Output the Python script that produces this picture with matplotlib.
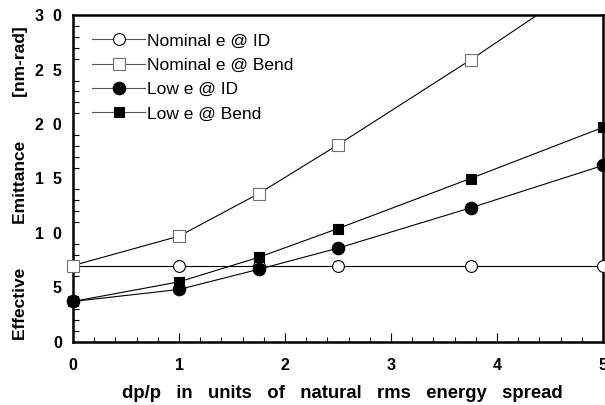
import numpy as np
import matplotlib
matplotlib.use("Agg")
import matplotlib.pyplot as plt
from matplotlib.ticker import MultipleLocator
from matplotlib.lines import Line2D

plt.rcParams['font.family'] = ['Liberation Sans', 'DejaVu Sans']

# dp/p in units of natural rms energy spread
x = [0, 1, 1.75, 2.5, 3.75, 5]

nominal_id = [7.0, 7.0, 7.0, 7.0, 7.0, 7.0]
nominal_bend = [7.0, 9.7, 13.6, 18.1, 25.9, 34.1]
low_id = [3.7, 4.8, 6.65, 8.6, 12.3, 16.2]
low_bend = [3.7, 5.5, 7.75, 10.4, 15.0, 19.7]

labels = ['Nominal e @ ID', 'Nominal e @ Bend', 'Low e @ ID', 'Low e @ Bend']
xtick_vals = [0, 1, 2, 3, 4, 5]
ytick_vals = [0, 5, 10, 15, 20, 25, 30]
ytick_labels = ['0', '5', '1  0', '1  5', '2  0', '2  5', '3  0']

styles = [
    dict(marker='o', ms=8.5, mfc='white', mec='black'),
    dict(marker='s', ms=8, mfc='white', mec='#707070'),
    dict(marker='o', ms=9, mfc='black', mec='black'),
    dict(marker='s', ms=6.8, mfc='black', mec='black'),
]

fig = plt.figure(figsize=(6.05, 4.05), dpi=100)
ax = fig.add_axes([73 / 605, 1 - 341.7 / 405, 530 / 605, (341.7 - 15.3) / 405])

series = [nominal_id, nominal_bend, low_id, low_bend]
handles = []
for ys, st, lab in zip(series, styles, labels):
    # line clipped at the frame, markers drawn over it unclipped
    ax.plot(x, ys, color='black', lw=0.8, zorder=2)
    ax.plot(x, ys, linestyle='none', mew=0.8, zorder=3, clip_on=False, **st)
    handles.append(Line2D([], [], color='#555555', lw=0.8, mew=0.8, label=lab, **st))

ax.set_xlim(0, 5)
ax.set_ylim(0, 30)

ax.set_xticks(xtick_vals)
ax.set_xticklabels([str(v) for v in xtick_vals])
ax.xaxis.set_minor_locator(MultipleLocator(0.2))
ax.set_yticks(ytick_vals)
ax.set_yticklabels(ytick_labels)
ax.yaxis.set_minor_locator(MultipleLocator(1))

ax.tick_params(axis='x', which='major', direction='in', length=6.5, width=0.8, pad=12)
ax.tick_params(axis='x', which='minor', direction='in', length=3.5, width=0.8)
ax.tick_params(axis='y', which='major', direction='in', length=0, pad=8)
ax.tick_params(axis='y', which='minor', direction='in', length=4, width=0.8)
for lab in ax.get_xticklabels() + ax.get_yticklabels():
    lab.set_fontweight('bold')
    lab.set_fontsize(11.5)

for sp in ax.spines.values():
    sp.set_linewidth(1.8)

ax.set_xlabel('dp/p   in   units   of   natural   rms   energy   spread',
              fontsize=13.3, fontweight='bold')
ax.xaxis.set_label_coords((342.5 - 73) / 530, -(385 - 341.7) / 326.4)
ax.set_ylabel('Effective         Emittance         [nm-rad]', fontsize=12.5, fontweight='bold')
ax.yaxis.set_label_coords(-(73 - 28) / 530, (341.7 - 183) / 326.4)

ax.legend(handles=handles, loc='upper left', bbox_to_anchor=(0.0135, 0.982),
          frameon=False, fontsize=12.5, handlelength=3.05, handletextpad=0.1,
          labelspacing=0.53, borderpad=0.2)

fig.savefig('out.png', dpi=100)
